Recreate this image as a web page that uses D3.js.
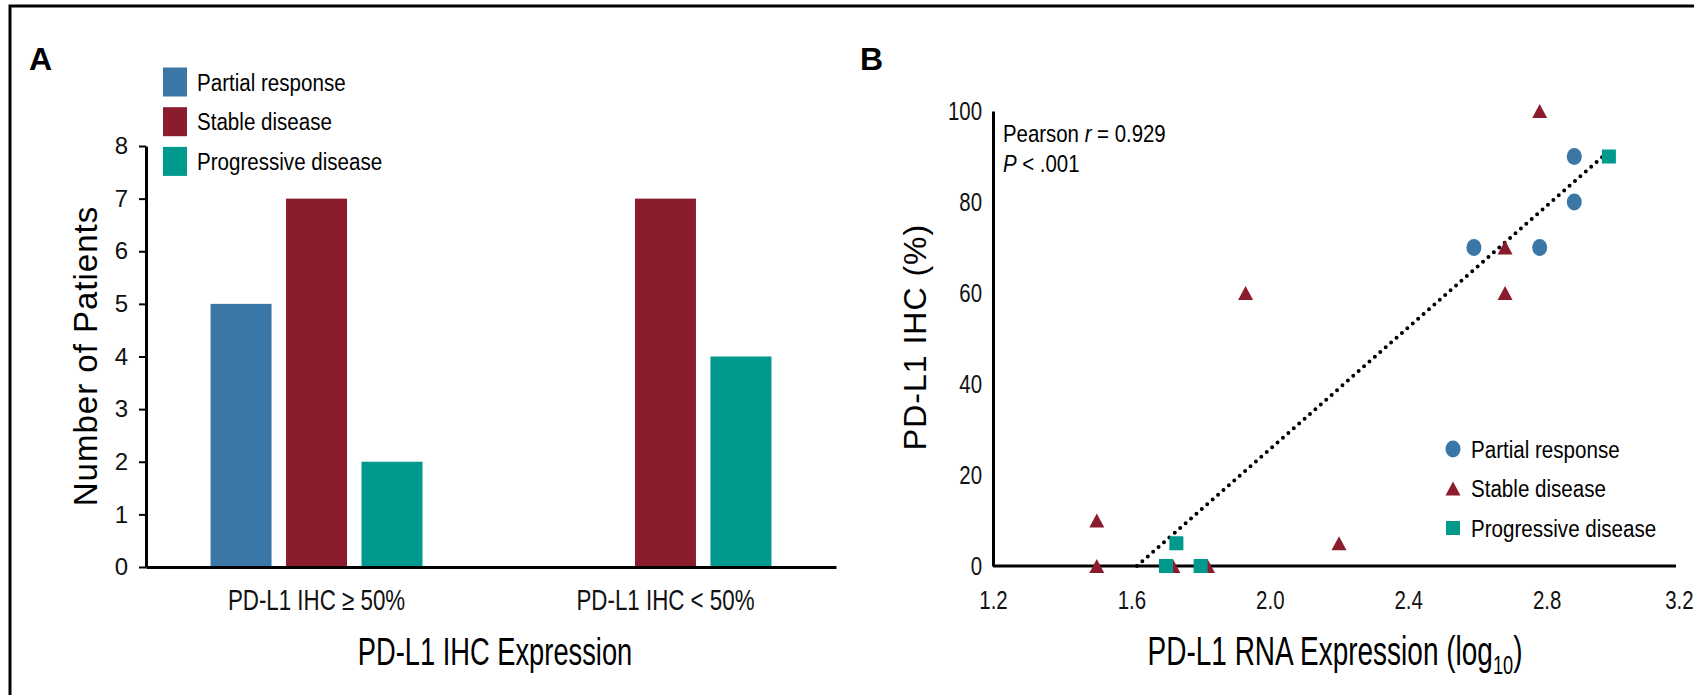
<!DOCTYPE html>
<html>
<head>
<meta charset="utf-8">
<script src="https://cdn.jsdelivr.net/npm/d3@7"></script>
<style>
    body { margin: 0; background: #fff; }
    svg { display: block; }
</style>
</head>
<body>
<svg id="chart" width="1694" height="695"></svg>
<script>
// panel A data
var categories = ["PD-L1 IHC \u2265 50%", "PD-L1 IHC < 50%"];
var responses = ["Partial response", "Stable disease", "Progressive disease"];
var partialCounts = [5, 0];
var stableCounts = [7, 7];
var progressiveCounts = [2, 4];
var countTicks = [0, 1, 2, 3, 4, 5, 6, 7, 8];

// panel B data (log10 RNA, IHC %)
var partialX = [2.59, 2.78, 2.88, 2.88];
var partialY = [70, 70, 80, 90];
var stableX = [1.50, 1.50, 1.72, 1.82, 1.93, 2.20, 2.68, 2.68, 2.78];
var stableY = [10, 0, 0, 0, 60, 5, 70, 60, 100];
var progressiveX = [1.70, 1.73, 1.80, 2.98];
var progressiveY = [0, 5, 0, 90];
var fitX = [1.616, 2.97];
var fitY = [0, 90.5];
var rnaTicks = [1.2, 1.6, 2.0, 2.4, 2.8, 3.2];
var ihcTicks = [0, 20, 40, 60, 80, 100];

var colors = ["#3a76a6", "#8b1c2d", "#00998d"];
var FONT = "'Liberation Sans', Arial, sans-serif";

var svg = d3.select("#chart");

// no condensed face is installed, so condensed text is squeezed around its own x,y
function narrow(sel, f) {
    sel.each(function () {
        var t = d3.select(this);
        var x = +t.attr("x") || 0, y = +t.attr("y") || 0;
        t.attr("x", 0).attr("y", 0)
            .attr("transform", "translate(" + x + "," + y + ") scale(" + f + ",1)")
            .style("font-family", FONT);
    });
    return sel;
}

// outer frame (top and left only)
svg.append("path")
    .attr("d", "M10,695V6H1694")
    .attr("fill", "none")
    .attr("stroke", "#000")
    .attr("stroke-width", 3);

// panel letters
svg.append("text").attr("x", 29).attr("y", 70).text("A")
    .style("font-family", FONT).style("font-weight", "bold").style("font-size", "32px");
svg.append("text").attr("x", 860).attr("y", 70).text("B")
    .style("font-family", FONT).style("font-weight", "bold").style("font-size", "32px");

/* ---------- panel A : grouped bars ---------- */
var x0 = d3.scaleBand().domain(categories).range([146, 836])
    .paddingInner(0.3926).paddingOuter(0.185);
var x1 = d3.scaleBand().domain(responses).range([0, x0.bandwidth()]).paddingInner(0.192);
var yA = d3.scaleLinear().domain([0, 8]).range([567, 146]);

var barRows = categories.map(function (c, i) {
    return { cat: c, values: [partialCounts[i], stableCounts[i], progressiveCounts[i]] };
});

var groups = svg.append("g").selectAll("g").data(barRows).enter().append("g")
    .attr("transform", function (d) { return "translate(" + x0(d.cat) + ",0)"; });

groups.selectAll("rect")
    .data(function (d) { return d.values.map(function (v, k) { return { k: k, v: v }; }); })
    .enter().append("rect")
    .attr("x", function (d) { return x1(responses[d.k]); })
    .attr("width", x1.bandwidth())
    .attr("y", function (d) { return yA(d.v); })
    .attr("height", function (d) { return yA(0) - yA(d.v); })
    .attr("fill", function (d) { return colors[d.k]; });

var yAxisA = svg.append("g").attr("transform", "translate(146,0)")
    .call(d3.axisLeft(yA).tickValues(countTicks).tickSize(7).tickSizeOuter(0).tickPadding(11));
yAxisA.selectAll("text").style("font-family", FONT).style("font-size", "24px").attr("fill", "#111");

var xAxisA = svg.append("g").attr("transform", "translate(0,567)")
    .call(d3.axisBottom(x0).tickSize(0).tickSizeOuter(0).tickPadding(22));
narrow(xAxisA.selectAll("text").style("font-size", "29px").attr("fill", "#111"), 0.77);

[yAxisA, xAxisA].forEach(function (a) {
    a.select(".domain").attr("stroke-width", 3);
    a.selectAll(".tick line").attr("stroke-width", 2);
});

svg.append("text")
    .attr("transform", "translate(97,356) rotate(-90)")
    .attr("text-anchor", "middle")
    .style("font-family", FONT).style("font-size", "33px").style("letter-spacing", "1px")
    .text("Number of Patients");

narrow(svg.append("text").attr("x", 495).attr("y", 665).attr("text-anchor", "middle")
    .style("font-size", "39px")
    .text("PD-L1 IHC Expression"), 0.7);

// legend A
var legA = svg.append("g").selectAll("g").data(responses).enter().append("g")
    .attr("transform", function (d, i) { return "translate(163," + (82 + i * 39.7) + ")"; });
legA.append("rect").attr("x", 0).attr("y", -14.5).attr("width", 24).attr("height", 29)
    .attr("fill", function (d, i) { return colors[i]; });
narrow(legA.append("text").attr("x", 34).attr("y", 8.5)
    .style("font-size", "24.5px")
    .text(function (d) { return d; }), 0.84);

/* ---------- panel B : scatter ---------- */
var xB = d3.scaleLinear().domain([1.2, 3.2]).range([993, 1685]);
var yB = d3.scaleLinear().domain([0, 100]).range([566, 111]);

var xAxisB = svg.append("g").attr("transform", "translate(0,566)")
    .call(d3.axisBottom(xB).tickValues(rnaTicks).tickFormat(d3.format(".1f")).tickSize(0).tickSizeOuter(0).tickPadding(25));
xAxisB.select(".domain").attr("d", "M" + xB(1.2) + ",0H1676");
// last label sits on the page edge: pull it in so it stays whole
xAxisB.selectAll(".tick text").filter(function (d) { return d === 3.2; })
    .attr("text-anchor", "end").attr("x", 8);
var yAxisB = svg.append("g").attr("transform", "translate(993,0)")
    .call(d3.axisLeft(yB).tickValues(ihcTicks).tickSize(0).tickSizeOuter(0).tickPadding(11));
[xAxisB, yAxisB].forEach(function (a) {
    a.select(".domain").attr("stroke-width", 3);
    narrow(a.selectAll("text").style("font-size", "25.5px").attr("fill", "#111"), 0.8);
});

svg.append("text")
    .attr("transform", "translate(926,337) rotate(-90)")
    .attr("text-anchor", "middle")
    .style("font-family", FONT).style("font-size", "32px").style("letter-spacing", "1px")
    .text("PD-L1 IHC (%)");

var xTitleB = narrow(svg.append("text").attr("x", 1335).attr("y", 665).attr("text-anchor", "middle")
    .style("font-size", "40px"), 0.7);
xTitleB.append("tspan").text("PD-L1 RNA Expression (log");
xTitleB.append("tspan").attr("dy", 9).style("font-size", "26px").text("10");
xTitleB.append("tspan").attr("dy", -9).text(")");

var stat = narrow(svg.append("text").attr("x", 1003).attr("y", 142).style("font-size", "24px"), 0.85);
stat.append("tspan").text("Pearson ");
stat.append("tspan").style("font-style", "italic").text("r");
stat.append("tspan").text(" = 0.929");
var stat2 = narrow(svg.append("text").attr("x", 1003).attr("y", 172).style("font-size", "24px"), 0.85);
stat2.append("tspan").style("font-style", "italic").text("P");
stat2.append("tspan").text(" < .001");

// fit line
svg.append("line")
    .attr("x1", xB(fitX[0])).attr("y1", yB(fitY[0]))
    .attr("x2", xB(fitX[1])).attr("y2", yB(fitY[1]))
    .attr("stroke", "#000").attr("stroke-width", 4)
    .attr("stroke-linecap", "round").attr("stroke-dasharray", "0,7.2");

function marker(sel, k) {
    if (k === 0) {
        sel.append("ellipse").attr("rx", 7.5).attr("ry", 8.5).attr("fill", colors[0]);
    } else if (k === 1) {
        sel.append("path").attr("d", "M0,-7L7.5,7L-7.5,7Z").attr("fill", colors[1]);
    } else {
        sel.append("rect").attr("x", -7).attr("y", -7).attr("width", 14).attr("height", 14).attr("fill", colors[2]);
    }
}

var sets = [[partialX, partialY], [stableX, stableY], [progressiveX, progressiveY]];
sets.forEach(function (s, k) {
    s[0].forEach(function (xv, i) {
        var g = svg.append("g").attr("transform", "translate(" + xB(xv) + "," + yB(s[1][i]) + ")");
        marker(g, k);
    });
});

// legend B
responses.forEach(function (r, i) {
    var g = svg.append("g").attr("transform", "translate(1453," + (449 + i * 39.5) + ")");
    marker(g, i);
    narrow(g.append("text").attr("x", 18).attr("y", 8.5).style("font-size", "24.5px").text(r), 0.84);
});
</script>
</body>
</html>
